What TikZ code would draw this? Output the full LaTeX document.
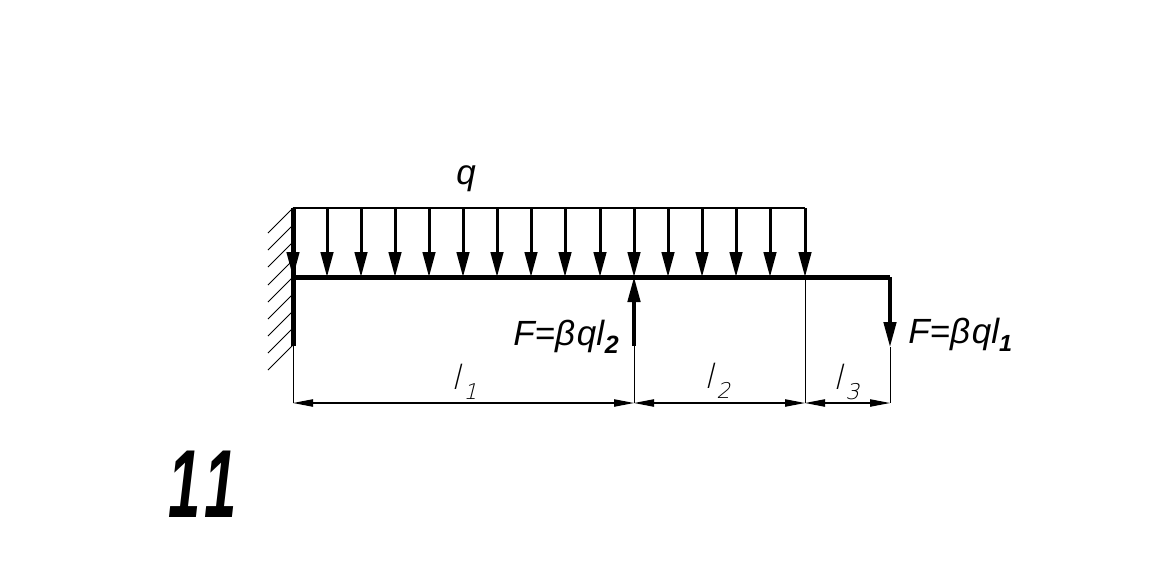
\documentclass[tikz,border=0pt]{standalone}
\usepackage{fontspec}
\setmainfont{Liberation Sans}
\newfontfamily\dimfont[FakeSlant=0.25]{DejaVu Sans ExtraLight}
\newfontfamily\numfont[LetterSpace=14]{Liberation Sans Bold Italic}
\usetikzlibrary{arrows.meta}
\tikzset{
  beamline/.style={line width=3pt},
  loadline/.style={line width=1.7pt},
  loadarrow/.style={line width=1.8pt,-{Triangle[length=15pt,width=7.5pt]}},
  forcearrow/.style={line width=1.9pt,-{Triangle[length=15pt,width=7.5pt]}},
  hatchline/.style={line width=0.5pt},
  thinline/.style={line width=0.6pt},
  dimline/.style={line width=0.7pt,{Triangle[length=12pt,width=4.4pt]}-{Triangle[length=12pt,width=4.4pt]}},
  forcetext/.style={inner sep=0pt,font=\fontsize{21}{24}\itshape\selectfont},
  dimtext/.style={inner sep=0pt,font=\fontsize{20}{24}\dimfont},
}
\begin{document}
\begin{tikzpicture}[x=0.6pt,y=0.6pt,yscale=-1,xscale=1]
\useasboundingbox (0,0) rectangle (1160,569);

% Points on the beam
\coordinate (walltop) at (293,208);
\coordinate (wallmid) at (293,277);
\coordinate (wallend) at (293,346);
\coordinate (loadend) at (805,208);
\coordinate (midpt) at (634,277);
\coordinate (loadpt) at (805,277);
\coordinate (beamend) at (890,277);
\coordinate (midtail) at (634,346);
\coordinate (endtip) at (890,347);
\coordinate (dima) at (293,403);
\coordinate (dimb) at (634,403);
\coordinate (dimc) at (805,403);
\coordinate (dimd) at (890,403);

%Wall hatching
\draw [hatchline] (268,233) -- (293,208);
\draw [hatchline] (268,250) -- (293,225);
\draw [hatchline] (268,267) -- (293,242);
\draw [hatchline] (268,285) -- (293,260);
\draw [hatchline] (268,302) -- (293,277);
\draw [hatchline] (268,319) -- (293,294);
\draw [hatchline] (268,336) -- (293,311);
\draw [hatchline] (268,353) -- (293,328);
\draw [hatchline] (268,370) -- (293,345);

%Load arrows
\draw [loadarrow] (293,208) -- (293,277);
\draw [loadarrow] (327,208) -- (327,277);
\draw [loadarrow] (361,208) -- (361,277);
\draw [loadarrow] (395,208) -- (395,277);
\draw [loadarrow] (429,208) -- (429,277);
\draw [loadarrow] (463,208) -- (463,277);
\draw [loadarrow] (497,208) -- (497,277);
\draw [loadarrow] (531,208) -- (531,277);
\draw [loadarrow] (565,208) -- (565,277);
\draw [loadarrow] (600,208) -- (600,277);
\draw [loadarrow] (634,208) -- (634,277);
\draw [loadarrow] (668,208) -- (668,277);
\draw [loadarrow] (702,208) -- (702,277);
\draw [loadarrow] (736,208) -- (736,277);
\draw [loadarrow] (770,208) -- (770,277);
\draw [loadarrow] (805,208) -- (805,277);

%Beam and wall
\draw [loadline] (walltop) -- (loadend);
\draw [beamline] (walltop) -- (wallend);
\draw [beamline] (wallmid) -- (beamend);

%Forces
\draw [forcearrow] (midtail) -- (midpt);
\draw [forcearrow] (beamend) -- (endtip);

%Extension lines
\draw [thinline] (wallend) -- (dima);
\draw [thinline] (midtail) -- (dimb);
\draw [thinline] (loadpt) -- (dimc);
\draw [thinline] (endtip) -- (dimd);

%Dimension lines
\draw [dimline] (dima) -- (dimb);
\draw [dimline] (dimb) -- (dimc);
\draw [dimline] (dimc) -- (dimd);

% Text Node
\node (qlabel) [forcetext] at (466,179) {q};
% Text Node
\node (fmid) [forcetext,anchor=west] at (513,337) {F=β\kern1pt ql\kern0.5pt\raisebox{-5pt}{\textbf{\fontsize{15}{18}\selectfont 2}}};
% Text Node
\node (fend) [forcetext,anchor=west] at (908,335) {F=β\kern1pt ql\raisebox{-5pt}{\textbf{\fontsize{14}{18}\selectfont 1}}};
% Text Node
\node (lone) [dimtext] at (464,382) {l\kern2pt\raisebox{-6pt}{\fontsize{13}{18}\selectfont 1}};
% Text Node
\node (ltwo) [dimtext] at (717,381) {l\kern2pt\raisebox{-6pt}{\fontsize{13}{18}\selectfont 2}};
% Text Node
\node (lthree) [dimtext] at (846,382) {l\kern2pt\raisebox{-6pt}{\fontsize{13}{18}\selectfont 3}};
% Text Node
\node (tasknum) [inner sep=0pt,xscale=0.6,font=\fontsize{58}{60}\numfont] at (203,484) {11};

\end{tikzpicture}
\end{document}
